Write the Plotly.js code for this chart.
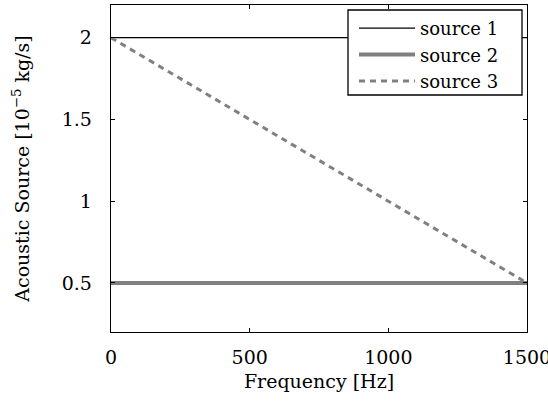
<!DOCTYPE html>
<html>
<head>
<meta charset="utf-8">
<script src="https://cdn.plot.ly/plotly-3.0.1.min.js"></script>
<style>html,body{margin:0;padding:0;background:#fff;}#chart{width:548px;height:403px;}</style>
</head>
<body>
<div id="chart"></div>
<script>
const freq = [0, 1500];
const source1 = [2, 2];
const source2 = [0.5, 0.5];
const source3 = [2, 0.5];
const seriesNames = ["source 1", "source 2", "source 3"];
const xTicks = [0, 500, 1000, 1500];
const yTicks = [0.5, 1, 1.5, 2];

const font = {family: "DejaVu Serif", size: 19, color: "#000"};
const legendFont = {family: "DejaVu Serif", size: 18, color: "#000"};

const traces = [
  {x: freq, y: source1, name: seriesNames[0], mode: "lines", line: {color: "#000", width: 1.3}},
  {x: freq, y: source2, name: seriesNames[1], mode: "lines", line: {color: "#808080", width: 4}},
  {x: freq, y: source3, name: seriesNames[2], mode: "lines", line: {color: "#808080", width: 3, dash: "6px,5px"}}
];

// plot area in pixels: left 111, right 527, top 5, bottom 332
const px2x = p => (p - 111) / 416;
const px2y = p => (332 - p) / 327;

const layout = {
  width: 548, height: 403,
  margin: {l: 111, r: 21, t: 5, b: 71},
  paper_bgcolor: "#fff", plot_bgcolor: "#fff",
  font: font,
  showlegend: true,
  legend: {x: px2x(354), y: px2y(10), xanchor: "left", yanchor: "top", bgcolor: "rgba(0,0,0,0)",
           borderwidth: 0, font: legendFont, tracegroupgap: 0, itemwidth: 56},
  shapes: [{type: "rect", xref: "paper", yref: "paper", layer: "above",
            x0: px2x(348), x1: px2x(522), y0: px2y(95), y1: px2y(10),
            fillcolor: "#fff", line: {color: "#000", width: 1.3}}],
  xaxis: {
    range: [0, 1500], tickvals: xTicks, ticktext: xTicks.map(String),
    ticks: "inside", ticklen: 4, tickcolor: "#000", tickwidth: 1,
    showline: true, linecolor: "#000", linewidth: 1.3, mirror: "ticks",
    showgrid: false, zeroline: false, ticklabelstandoff: 8, ticklabeloverflow: "allow",
    tickfont: font,
    title: {text: "Frequency [Hz]", font: font, standoff: 7}
  },
  yaxis: {
    range: [0.2, 2.2], tickvals: yTicks, ticktext: yTicks.map(String),
    ticks: "inside", ticklen: 4, tickcolor: "#000", tickwidth: 1,
    showline: true, linecolor: "#000", linewidth: 1.3, mirror: "ticks",
    showgrid: false, zeroline: false, ticklabelstandoff: 14,
    tickfont: font,
    title: {text: "Acoustic Source [10<sup>−5</sup> kg/s]", font: font, standoff: 27}
  }
};

Plotly.newPlot("chart", traces, layout, {staticPlot: true, displayModeBar: false});
</script>
</body>
</html>
